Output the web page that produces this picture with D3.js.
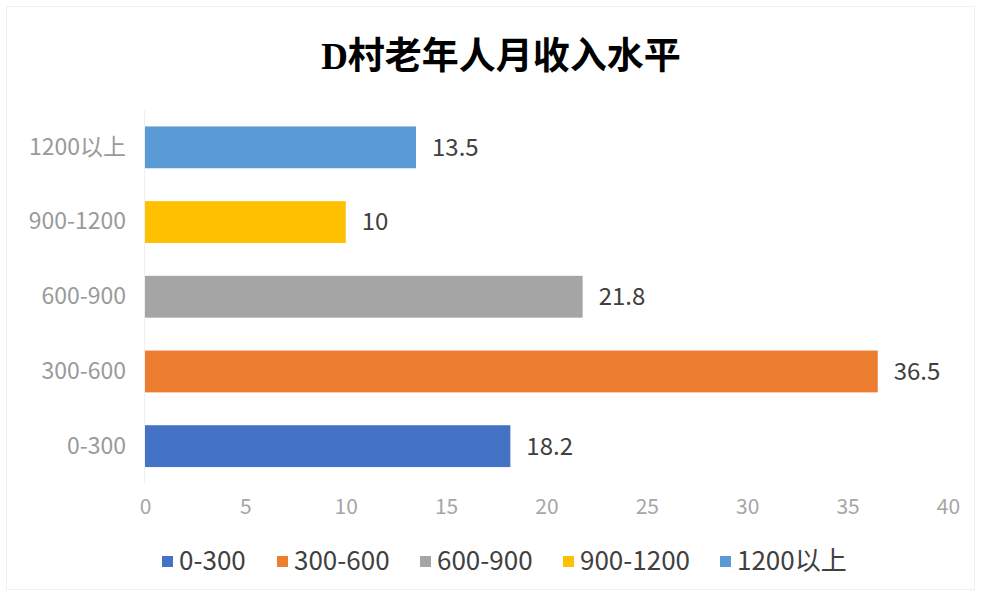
<!DOCTYPE html>
<html><head><meta charset="utf-8">
<script src="https://cdn.jsdelivr.net/npm/d3@7"></script>
<style>body{margin:0;background:#fff;}svg{display:block;}</style>
</head><body>
<svg id="c" width="981" height="596"></svg>
<script>
const title = "D村老年人月收入水平";
const categories = ["0-300","300-600","600-900","900-1200","1200以上"];
const values = [18.2, 36.5, 21.8, 10, 13.5];
const colors = ["#4472C4","#ED7D31","#A5A5A5","#FFC000","#5B9BD5"];
const xTicks = [0,5,10,15,20,25,30,35,40];

const svg = d3.select("#c");
const W = 981, H = 596;
svg.append("rect").attr("x",6.5).attr("y",6.5).attr("width",W-13).attr("height",H-13)
  .attr("fill","#fff").attr("stroke","#f0f0f0");

const x = d3.scaleLinear().domain([0,40]).range([145,948]);
const y = d3.scaleBand().domain(categories.slice().reverse()).range([110,483.5]).paddingInner(0.44).paddingOuter(0.22);

svg.append("text").attr("x",501).attr("y",69).attr("text-anchor","middle")
  .attr("font-family","'Liberation Serif','Noto Sans CJK SC',serif").attr("font-weight","bold")
  .attr("font-size",37).attr("fill","#000").text(title);

svg.append("line").attr("x1",x(0)-0.5).attr("x2",x(0)-0.5).attr("y1",110).attr("y2",483.5).attr("stroke","#f0f0f0");

const xa = svg.append("g").attr("transform","translate(0,483)")
  .call(d3.axisBottom(x).tickValues(xTicks).tickSize(0).tickPadding(16));
xa.select(".domain").remove();
xa.selectAll("text").attr("font-family","'Noto Sans CJK SC','Liberation Sans',sans-serif").attr("font-size",21).attr("fill","#a6a6a6");

const ya = svg.append("g").attr("transform","translate(126,0)")
  .call(d3.axisLeft(y).tickSize(0).tickPadding(0));
ya.select(".domain").remove();
ya.selectAll("text").attr("font-family","'Noto Sans CJK SC','Liberation Sans',sans-serif").attr("font-size",23).attr("fill","#9a9a9a");

const data = categories.map((c,i)=>({c, v:values[i], col:colors[i]}));
svg.selectAll("rect.bar").data(data).enter().append("rect").attr("class","bar")
  .attr("x",x(0)).attr("y",d=>y(d.c)).attr("width",d=>x(d.v)-x(0)).attr("height",y.bandwidth())
  .attr("fill",d=>d.col);

svg.selectAll("text.lbl").data(data).enter().append("text").attr("class","lbl")
  .attr("x",d=>x(d.v)+16).attr("y",d=>y(d.c)+y.bandwidth()/2).attr("dy","0.35em")
  .attr("font-family","'Noto Sans CJK SC','Noto Sans',sans-serif").attr("font-size",24).attr("fill","#404040")
  .text(d=>d.v);

const legX = [162, 277, 420, 563, 720];
const lg = svg.append("g");
data.forEach((d,i)=>{
  const g = lg.append("g").attr("transform",`translate(${legX[i]},561)`);
  g.append("rect").attr("x",0).attr("y",-5).attr("width",11).attr("height",11).attr("fill",d.col);
  g.append("text").attr("x",17).attr("y",0).attr("dy","0.35em")
    .attr("font-family","'Noto Sans CJK SC',sans-serif").attr("font-size",26).attr("fill","#404040").text(d.c);
});
</script>
</body></html>
